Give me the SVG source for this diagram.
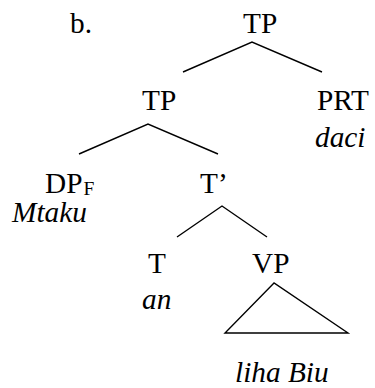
<svg xmlns="http://www.w3.org/2000/svg" width="375" height="388" viewBox="0 0 375 388">
<style>
text{font-family:"Liberation Serif","Times New Roman",serif;font-size:29.3px;fill:#000}
.it{font-style:italic}
.sub{font-size:19.5px}
.edge{stroke:#000;stroke-width:1.4;fill:none}
</style>
<rect width="375" height="388" fill="#fff"/>
<text id="label-b" x="70" y="33">b.</text>
<g id="connectors">
<polyline class="edge" points="183,72 252,42 322,72"/>
<polyline class="edge" points="79,154 148,124 218,154"/>
<polyline class="edge" points="177,237 222,206 267,237"/>
</g>
<g id="node-tp-root"><text x="243" y="33">TP</text></g>
<g id="node-tp"><text x="142" y="110">TP</text></g>
<g id="node-prt"><text x="317" y="110">PRT</text><text class="it" x="315" y="147">daci</text></g>
<g id="node-dp"><text x="45" y="193">DP<tspan class="sub" dx="1" dy="2">F</tspan></text><text class="it" x="12" y="222">Mtaku</text></g>
<g id="node-tbar"><text x="200" y="193">T&#8217;</text></g>
<g id="node-t"><text x="148" y="273">T</text><text class="it" x="142" y="309">an</text></g>
<g id="node-vp"><text x="252" y="273">VP</text>
<polygon class="edge" points="274,283 225,333 348,333"/>
<text class="it" x="235" y="382">liha Biu</text></g>
</svg>
